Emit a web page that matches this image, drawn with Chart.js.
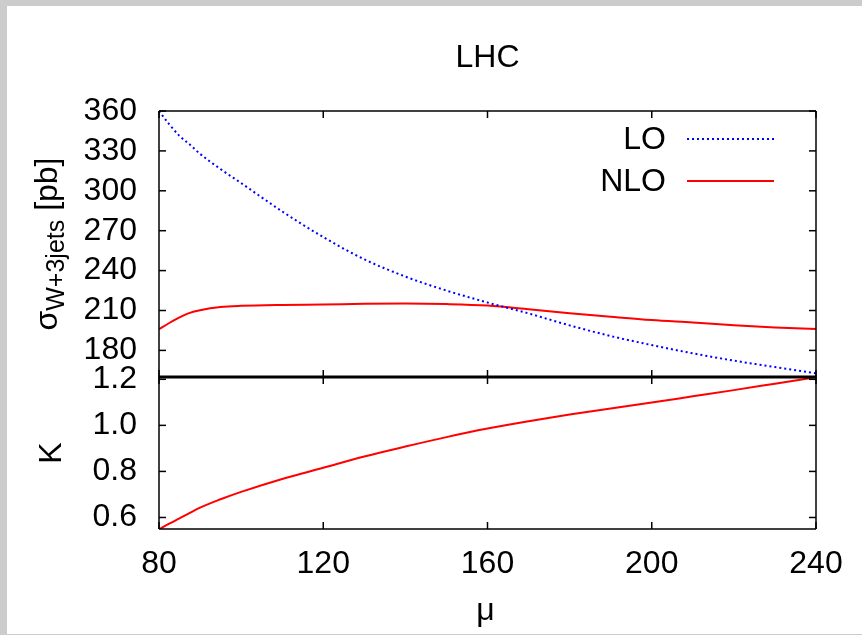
<!DOCTYPE html>
<html>
<head>
<meta charset="utf-8">
<script src="https://cdn.jsdelivr.net/npm/chart.js@4.4.1/dist/chart.umd.min.js"></script>
<style>
  html, body { margin: 0; padding: 0; background: #cccccc; }
  #wrap { position: absolute; left: 7px; top: 6px; width: 855px; height: 628px; background: #fff; }
</style>
</head>
<body>
<div id="wrap"><canvas id="lhc" width="855" height="628"></canvas></div>
<script>
// scale mu and the two cross sections (pb), plus the K factor NLO/LO
const mu  = [80, 82.5, 85, 87.5, 90, 95, 100, 110, 120, 130, 140, 150, 160, 170, 180, 190, 200, 210, 220, 230, 240];
const lo  = [360, 350, 341.3, 334.8, 327.8, 316.3, 305.8, 284.5, 265.2, 248.5, 235.5, 225, 216, 207.8, 198.8, 190.8, 184, 177.8, 172.3, 167.5, 162.8];
const nlo = [196, 200.6, 204.8, 208.2, 210.2, 212.6, 213.5, 214.2, 214.5, 215, 215.2, 214.8, 213.7, 211, 208, 205.3, 202.8, 201, 199, 197.3, 196];
const kfac = [0.549, 0.573, 0.596, 0.62, 0.643, 0.679, 0.711, 0.767, 0.816, 0.865, 0.908, 0.949, 0.986, 1.018, 1.047, 1.073, 1.099, 1.126, 1.153, 1.181, 1.209];

const xTicks = [80, 120, 160, 200, 240];
const sigmaTicks = [180, 210, 240, 270, 300, 330, 360];
const kTicks = [0.6, 0.8, 1.0, 1.2];

const FONT = "'Liberation Sans', Arial, sans-serif";

function pts(ys) {
    return mu.map((m, i) => ({x: m, y: ys[i]}));
}

function setTicks(arr) {
    return function(scale) {
        scale.ticks = arr.map(v => ({value: v}));
    };
}

const frame = {
    id: 'frame',
    afterDraw(chart) {
        const ctx = chart.ctx;
        const sx = chart.scales.x, sy = chart.scales.y, sk = chart.scales.k;
        const left = sx.left, right = sx.right;
        const top = Math.min(sy.top, sk.top), bottom = Math.max(sy.bottom, sk.bottom);
        const sep = sy.bottom;
        const t = 7;

        function line(x1, y1, x2, y2) {
            ctx.beginPath();
            ctx.moveTo(x1, y1);
            ctx.lineTo(x2, y2);
            ctx.stroke();
        }

        ctx.save();
        ctx.strokeStyle = '#000';
        ctx.lineWidth = 1.5;
        line(left, top, right, top);
        line(right, top, right, bottom);
        line(right, bottom, left, bottom);
        line(left, bottom, left, top);

        // inward tick marks, mirrored on every side
        xTicks.forEach(v => {
            const px = sx.getPixelForValue(v);
            line(px, top, px, top + t);
            line(px, sep - t, px, sep + t);
            line(px, bottom, px, bottom - t);
        });
        sigmaTicks.forEach(v => {
            const py = sy.getPixelForValue(v);
            line(left, py, left + t, py);
            line(right, py, right - t, py);
        });
        kTicks.forEach(v => {
            const py = sk.getPixelForValue(v);
            line(left, py, left + t, py);
            line(right, py, right - t, py);
        });

        ctx.lineWidth = 3;
        line(left, sep, right, sep);

        // title and axis titles
        ctx.fillStyle = '#000';
        ctx.textAlign = 'center';
        ctx.textBaseline = 'middle';
        ctx.font = '32px ' + FONT;
        ctx.fillText('LHC', (left + right) / 2, 52);

        ctx.textBaseline = 'alphabetic';
        ctx.fillText('\u03bc', (left + right) / 2 - 2, 614);

        // sigma_{W+3jets} [pb], rotated
        ctx.save();
        ctx.translate(44, (sy.top + sy.bottom) / 2);
        ctx.rotate(-Math.PI / 2);
        ctx.textAlign = 'left';
        ctx.textBaseline = 'alphabetic';
        const big = '32px ' + FONT, small = '25px ' + FONT;
        ctx.font = big;
        const w1 = ctx.measureText('\u03c3').width;
        const w3 = ctx.measureText(' [pb]').width;
        ctx.font = small;
        const w2 = ctx.measureText('W+3jets').width;
        let x0 = -(w1 + w2 + w3) / 2;
        ctx.font = big;
        ctx.fillText('\u03c3', x0, 6);
        ctx.font = small;
        ctx.fillText('W+3jets', x0 + w1, 13);
        ctx.font = big;
        ctx.fillText(' [pb]', x0 + w1 + w2, 6);
        ctx.restore();

        ctx.save();
        ctx.translate(45, (sk.top + sk.bottom) / 2);
        ctx.rotate(-Math.PI / 2);
        ctx.textAlign = 'center';
        ctx.textBaseline = 'middle';
        ctx.font = big;
        ctx.fillText('K', 0, 0);
        ctx.restore();

        // key, text right aligned then the line sample
        const keys = [chart.data.datasets[0], chart.data.datasets[1]];
        const rows = [133, 175];
        keys.forEach((ds, i) => {
            ctx.font = big;
            ctx.textAlign = 'right';
            ctx.textBaseline = 'middle';
            ctx.fillStyle = '#000';
            ctx.fillText(ds.label, 659, rows[i] + 1);
            ctx.strokeStyle = ds.borderColor;
            ctx.lineWidth = ds.borderWidth;
            ctx.setLineDash(ds.borderDash || []);
            line(680, rows[i], 767, rows[i]);
            ctx.setLineDash([]);
        });
        ctx.restore();
    }
};

new Chart(document.getElementById('lhc'), {
    type: 'line',
    data: {
        datasets: [
            {
                label: 'LO',
                data: pts(lo),
                yAxisID: 'y',
                borderColor: '#0000ff',
                borderWidth: 2,
                borderDash: [2, 3],
                pointRadius: 0,
                cubicInterpolationMode: 'monotone'
            },
            {
                label: 'NLO',
                data: pts(nlo),
                yAxisID: 'y',
                borderColor: '#ff0000',
                borderWidth: 2,
                pointRadius: 0,
                cubicInterpolationMode: 'monotone'
            },
            {
                label: 'K',
                data: pts(kfac),
                yAxisID: 'k',
                borderColor: '#ff0000',
                borderWidth: 2,
                pointRadius: 0,
                cubicInterpolationMode: 'monotone'
            }
        ]
    },
    options: {
        responsive: false,
        animation: false,
        layout: { padding: { top: 105, right: 46, left: 0, bottom: 0 } },
        plugins: {
            legend: { display: false },
            title: { display: false },
            tooltip: { enabled: false }
        },
        scales: {
            x: {
                type: 'linear',
                min: 80,
                max: 240,
                afterBuildTicks: setTicks(xTicks),
                afterFit(scale) { scale.height = 105; },
                grid: { display: false, drawTicks: false },
                border: { display: false },
                ticks: {
                    autoSkip: false,
                    maxRotation: 0,
                    padding: 16,
                    color: '#000',
                    font: { family: FONT, size: 32 }
                }
            },
            k: {
                type: 'linear',
                position: 'left',
                stack: 'panels',
                stackWeight: 152,
                min: 0.55,
                max: 1.21,
                afterBuildTicks: setTicks(kTicks),
                afterFit(scale) { scale.width = 152; },
                grid: { display: false, drawTicks: false },
                border: { display: false },
                ticks: {
                    autoSkip: false,
                    padding: 22,
                    color: '#000',
                    font: { family: FONT, size: 32 },
                    callback: v => v.toFixed(1)
                }
            },
            y: {
                type: 'linear',
                position: 'left',
                stack: 'panels',
                stackWeight: 266,
                min: 160,
                max: 360,
                afterBuildTicks: setTicks(sigmaTicks),
                afterFit(scale) { scale.width = 152; },
                grid: { display: false, drawTicks: false },
                border: { display: false },
                ticks: {
                    autoSkip: false,
                    padding: 22,
                    color: '#000',
                    font: { family: FONT, size: 32 }
                }
            }
        }
    },
    plugins: [frame]
});
</script>
</body>
</html>
